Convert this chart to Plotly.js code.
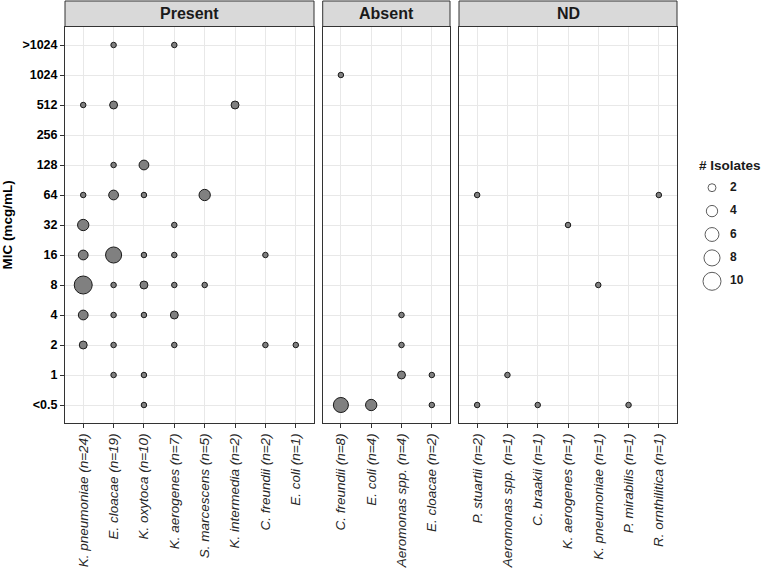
<!DOCTYPE html>
<html>
<head>
<meta charset="utf-8">
<script src="https://cdn.plot.ly/plotly-3.0.1.min.js"></script>
<style>html,body{margin:0;padding:0;background:#fff;}#chart{width:762px;height:574px;}</style>
</head>
<body>
<div id="chart"></div>
<script>
// ---- data ----
const micLevels = ['<0.5','1','2','4','8','16','32','64','128','256','512','1024','>1024'];

const presentSpecies = ['K. pneumoniae (n=24)','E. cloacae (n=19)','K. oxytoca (n=10)','K. aerogenes (n=7)',
  'S. marcescens (n=5)','K. intermedia (n=2)','C. freundii (n=2)','E. coli (n=1)'];
const presentIdx = [0,0,0,0,0,0,0, 1,1,1,1,1,1,1,1,1, 2,2,2,2,2,2,2, 3,3,3,3,3,3, 4,4, 5, 6,6, 7];
const presentMic = ['512','64','32','16','8','4','2',
  '>1024','512','128','64','16','8','4','2','1',
  '128','64','16','8','4','1','<0.5',
  '>1024','32','16','8','4','2',
  '64','8', '512', '16','2', '2'];
const presentN = [1,1,4,3,10,3,2, 1,2,1,3,8,1,1,1,1, 3,1,1,2,1,1,1, 1,1,1,1,2,1, 4,1, 2, 1,1, 1];

const absentSpecies = ['C. freundii (n=8)','E. coli (n=4)','Aeromonas spp. (n=4)','E. cloacae (n=2)'];
const absentIdx = [0,0, 1, 2,2,2, 3,3];
const absentMic = ['1024','<0.5', '<0.5', '4','2','1', '1','<0.5'];
const absentN = [1,7, 4, 1,1,2, 1,1];

const ndSpecies = ['P. stuartii (n=2)','Aeromonas spp. (n=1)','C. braakii (n=1)','K. aerogenes (n=1)',
  'K. pneumoniae (n=1)','P. mirabilis (n=1)','R. ornthilitica (n=1)'];
const ndIdx = [0,0,1,2,3,4,5,6];
const ndMic = ['64','<0.5','1','<0.5','32','8','<0.5','64'];
const ndN = [1,1,1,1,1,1,1,1];

const panelNames = ['Present','Absent','ND'];
const legendCounts = [2,4,6,8,10];

// ---- size scale (area-proportional, like ggplot scale_size) ----
const nMin = 1, nMax = 10, dMin = 5.5, dMax = 18;
function sz(n){ return Math.sqrt(dMin*dMin + (n-nMin)/(nMax-nMin)*(dMax*dMax-dMin*dMin)); }

const panels = [
  {species: presentSpecies, idx: presentIdx, mic: presentMic, n: presentN},
  {species: absentSpecies, idx: absentIdx, mic: absentMic, n: absentN},
  {species: ndSpecies, idx: ndIdx, mic: ndMic, n: ndN}
];

const W = 697, H = 396, L = 65, T = 27;
const domainsPx = [[65,314],[322.7,450],[459,677]];
const domains = domainsPx.map(d => [(d[0]-L)/W, (d[1]-L)/W]);

const traces = [];
const layout = {
  width: 762, height: 574,
  margin: {l: L, r: 0, t: T, b: 574 - T - H},
  paper_bgcolor: '#ffffff', plot_bgcolor: '#ffffff',
  showlegend: false,
  font: {family: 'Liberation Sans, Arial, sans-serif', color: '#1a1a1a'},
  shapes: [], annotations: []
};

panels.forEach((p, i) => {
  const k = i === 0 ? '' : String(i+1);
  traces.push({
    type: 'scatter', mode: 'markers',
    x: p.idx.map(j => p.species[j]), y: p.mic,
    xaxis: 'x' + k, yaxis: 'y' + k,
    marker: {size: p.n.map(sz), color: '#808080', line: {color: '#1a1a1a', width: 1}, opacity: 1},
    hoverinfo: 'x+y+text', text: p.n.map(v => '# Isolates: ' + v)
  });
  layout['xaxis' + k] = {
    domain: domains[i], anchor: 'y' + k,
    type: 'category', categoryorder: 'array', categoryarray: p.species,
    range: [-0.6, p.species.length - 0.4],
    showline: true, mirror: true, linecolor: '#333333', linewidth: 1,
    showgrid: true, gridcolor: '#e8e8e8', gridwidth: 1.1, zeroline: false,
    ticks: 'outside', ticklen: 4, tickcolor: '#333333', tickwidth: 1,
    tickangle: -90,
    tickfont: {family: 'Liberation Sans, Arial, sans-serif', size: 13.5, style: 'italic', color: '#262626'},
    fixedrange: true
  };
  layout['yaxis' + k] = {
    domain: [0, 1], anchor: 'x' + k,
    type: 'category', categoryorder: 'array', categoryarray: micLevels,
    range: [-0.6, micLevels.length - 0.4],
    showline: true, mirror: true, linecolor: '#333333', linewidth: 1,
    showgrid: true, gridcolor: '#e8e8e8', gridwidth: 1.1, zeroline: false,
    ticks: i === 0 ? 'outside' : '', ticklen: 4, tickcolor: '#333333', tickwidth: 1,
    showticklabels: i === 0,
    tickfont: {family: 'Liberation Sans, Arial, sans-serif', size: 12.5, weight: 'bold', color: '#000000'},
    fixedrange: true
  };
  // strip
  layout.shapes.push({
    type: 'rect', xref: 'paper', yref: 'paper',
    x0: domains[i][0], x1: domains[i][1], y0: 1 + 0.5/H, y1: 1 + 26/H,
    fillcolor: '#d9d9d9', line: {color: '#333333', width: 1}, layer: 'above'
  });
  layout.annotations.push({
    xref: 'paper', yref: 'paper', x: (domains[i][0] + domains[i][1]) / 2, y: 1 + 13.5/H,
    xanchor: 'center', yanchor: 'middle', showarrow: false,
    text: '<b>' + panelNames[i] + '</b>',
    font: {family: 'Liberation Sans, Arial, sans-serif', size: 16, color: '#1a1a1a'}
  });
});

layout.yaxis.title = {text: '<b>MIC (mcg/mL)</b>', font: {size: 13.5, color: '#000000'}, standoff: 8};

// ---- size legend on its own small axes ----
const legendYCats = legendCounts.map(String).reverse();
traces.push({
  type: 'scatter', mode: 'markers',
  x: legendCounts.map(() => 'c'), y: legendCounts.map(String),
  xaxis: 'x4', yaxis: 'y4',
  marker: {size: legendCounts.map(sz), color: '#ffffff', line: {color: '#1a1a1a', width: 1}},
  hoverinfo: 'skip'
});
traces.push({
  type: 'scatter', mode: 'text',
  x: legendCounts.map(() => 't'), y: legendCounts.map(String),
  text: legendCounts.map(v => '<b>' + v + '</b>'),
  textposition: 'middle right',
  textfont: {family: 'Liberation Sans, Arial, sans-serif', size: 12, color: '#1a1a1a'},
  xaxis: 'x4', yaxis: 'y4', hoverinfo: 'skip'
});
layout.xaxis4 = {
  domain: [(690 - L)/W, 1], anchor: 'y4', type: 'category', categoryarray: ['c','t'], categoryorder: 'array',
  range: [-1.222, 2.778], visible: false, fixedrange: true
};
layout.yaxis4 = {
  domain: [(T + H - 293)/H, (T + H - 176)/H], anchor: 'x4', type: 'category',
  categoryarray: legendYCats, categoryorder: 'array',
  range: [-0.5, legendCounts.length - 0.5], visible: false, fixedrange: true
};
layout.annotations.push({
  xref: 'paper', yref: 'paper', x: (697 - L)/W, y: (T + H - 165)/H,
  xanchor: 'left', yanchor: 'middle', showarrow: false,
  text: '<b># Isolates</b>',
  font: {family: 'Liberation Sans, Arial, sans-serif', size: 13.5, color: '#1a1a1a'}
});

Plotly.newPlot('chart', traces, layout, {displayModeBar: false, staticPlot: false});
</script>
</body>
</html>
